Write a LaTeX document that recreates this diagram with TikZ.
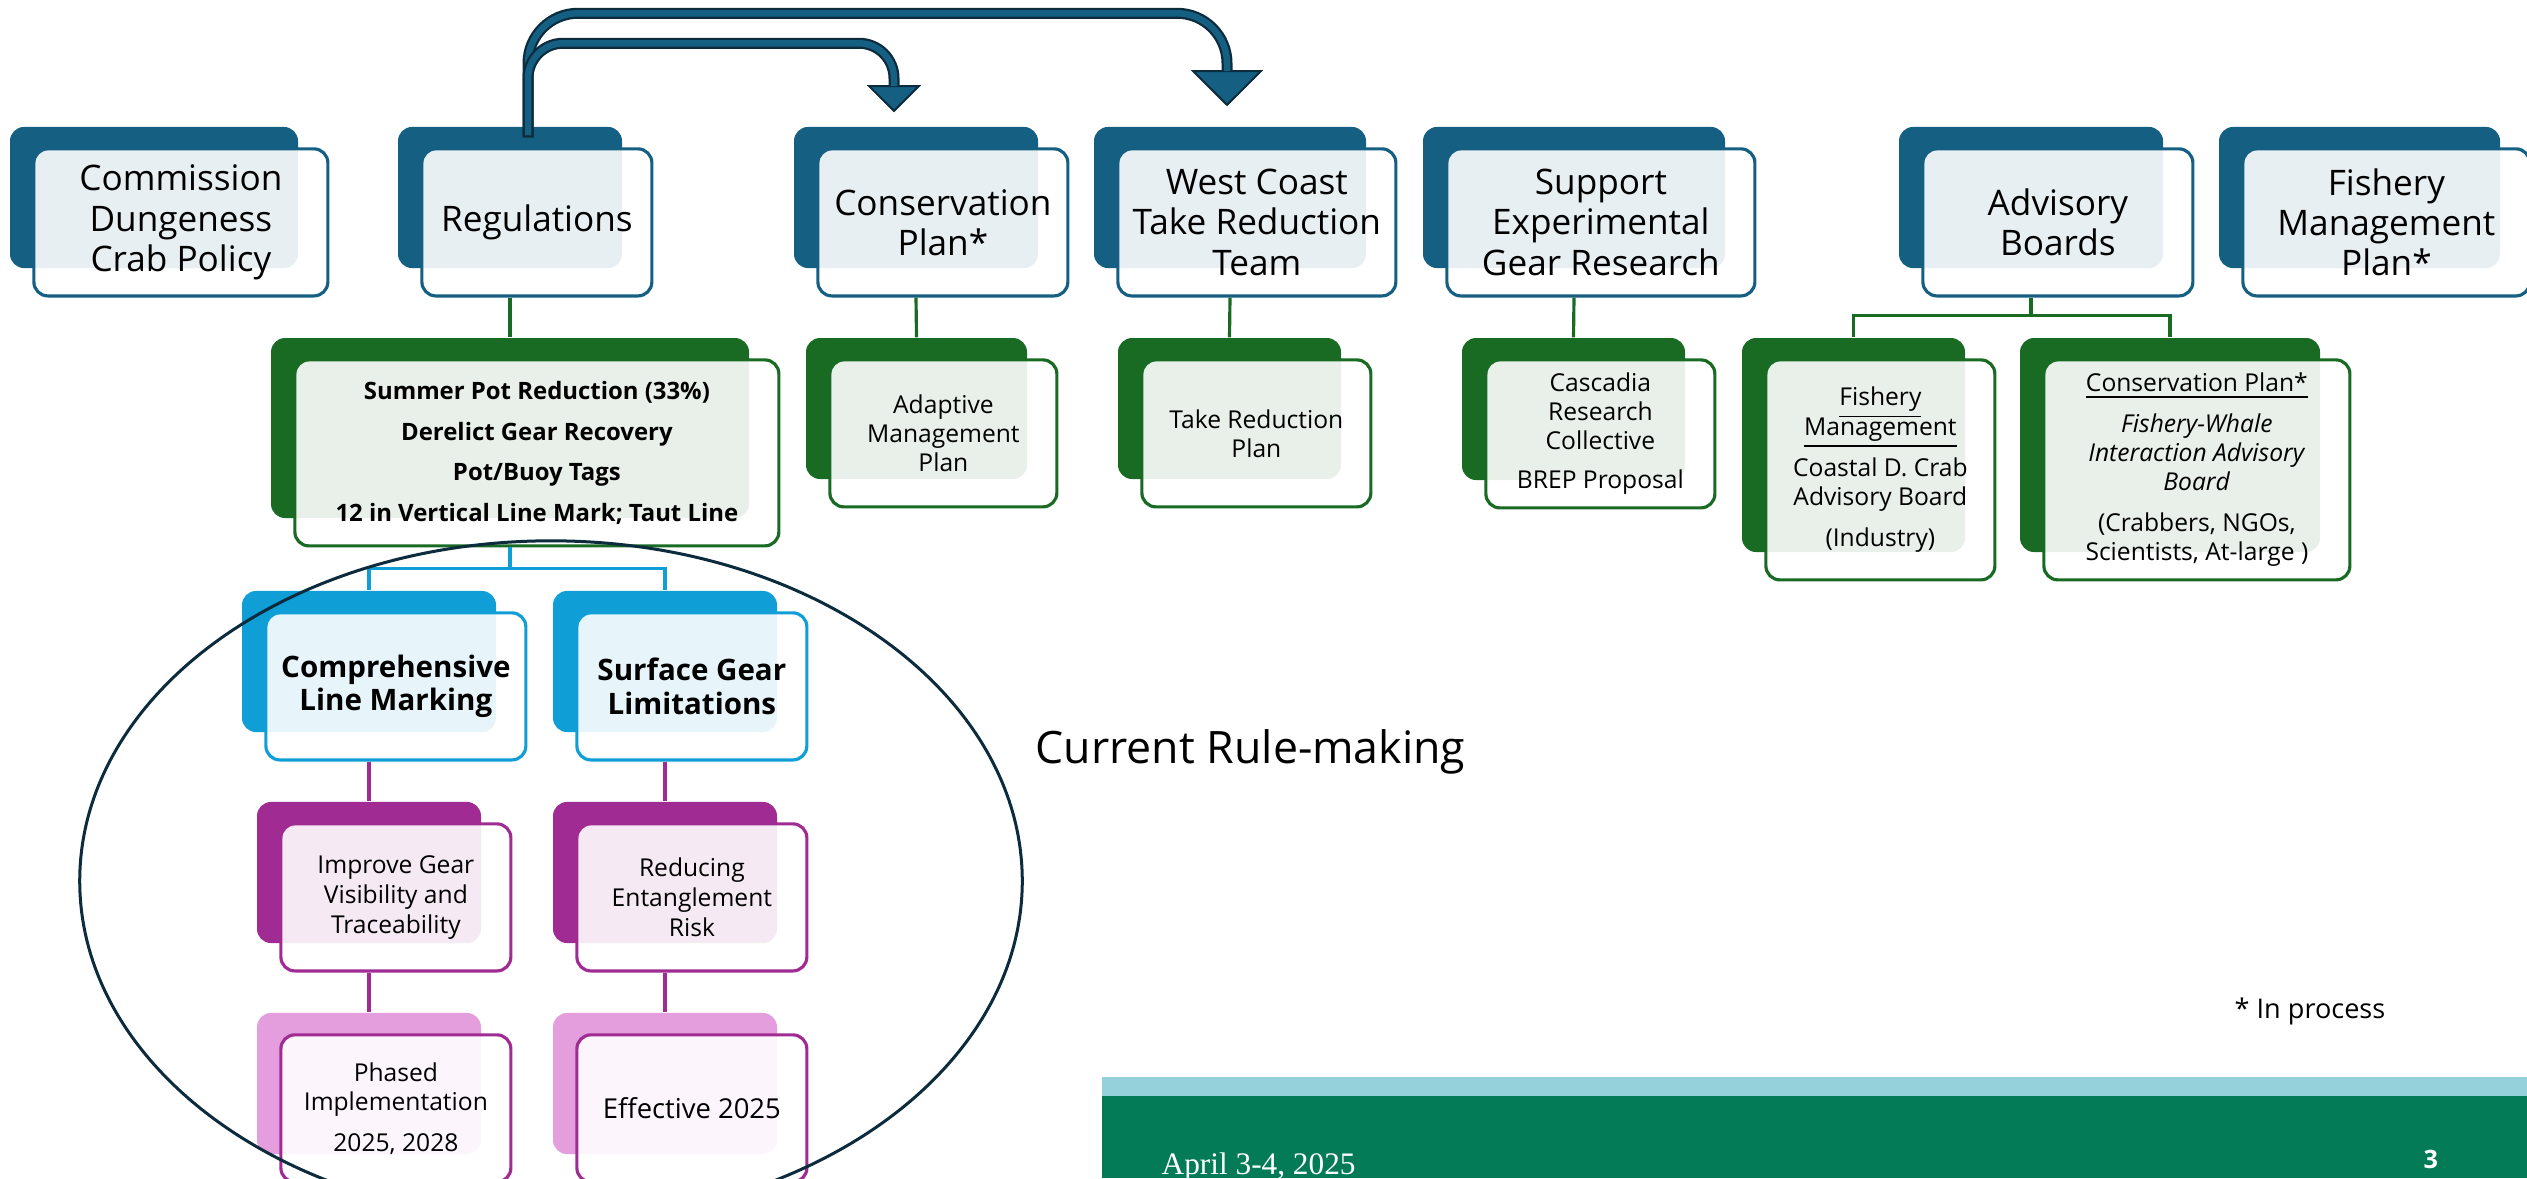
\documentclass[tikz,border=0pt]{standalone}
\usepackage{fontspec}
\setmainfont{Open Sans}
\newfontfamily\datefont{Liberation Serif}
\usepackage{xcolor}
\usetikzlibrary{arrows.meta,positioning}

\definecolor{orgblue}{HTML}{156082}
\definecolor{orggreen}{HTML}{196B24}
\definecolor{orgcyan}{HTML}{0F9ED5}
\definecolor{orgpurple}{HTML}{A02B93}
\definecolor{orgpink}{HTML}{E49EDD}
\definecolor{ringnavy}{HTML}{0C2B3D}
\definecolor{bandlight}{HTML}{95D1DA}
\definecolor{bandgreen}{HTML}{027B56}

\begin{document}
\begin{tikzpicture}[x=0.01cm, y=-0.01cm,
        back/.style={fill=#1, rounded corners=0.14cm, inner sep=0pt},
        front/.style={draw=#1, line width=0.9pt, fill=white, fill opacity=0.9,
            text opacity=1, rounded corners=0.14cm, inner sep=0pt, align=center,
            anchor=north west},
        link/.style={draw=#1, line width=0.9pt},
        label/.style={anchor=base west, inner sep=0pt},
        arrowedge/.style={draw=ringnavy, line width=0.11cm},
        arrowcore/.style={draw=orgblue, line width=0.065cm}]

        \useasboundingbox (0,0) rectangle (2527,1178);

        % Top row of the chart
        \foreach \n/\xa/\xb/\txt in {
            comm/10/298/{Commission\\Dungeness\\Crab Policy},
            reg/398/622/{Regulations},
            cons/794/1038/{Conservation\\Plan*},
            wctrt/1094/1366/{West Coast\\Take Reduction\\Team},
            sup/1423/1725/{Support\\Experimental\\Gear Research},
            adv/1899/2163/{Advisory\\Boards},
            fmp/2219/2500/{Fishery\\Management\\Plan*}}{
            \node[back=orgblue, minimum width={(\xb-\xa)*0.01cm}, minimum height=1.41cm]
                (\n-b) at ({(\xa+\xb)/2}, 197.5) {};
            \node[front=orgblue, minimum width={(\xb-\xa+6)*0.01cm}, minimum height=1.47cm,
                font=\fontsize{10}{11.4}\selectfont]
                (\n) at ([shift={(23,21)}]\n-b.north west) {\txt};
        }

        % Second row (green), boxes of different heights
        \foreach \n/\xa/\xb/\yb/\fnt/\txt in {
            summ/271/749/518/{\fontsize{6.8}{11.6}\selectfont\bfseries}/{Summer Pot Reduction (33\%)\\Derelict Gear Recovery\\Pot/Buoy Tags\\12 in Vertical Line Mark; Taut Line},
            adapt/806/1027/479/{\fontsize{7}{8.3}\selectfont}/{Adaptive\\Management\\Plan},
            trp/1118/1341/479/{\fontsize{7}{8.3}\selectfont}/{Take Reduction\\Plan},
            casc/1462/1685/480/{\fontsize{7}{8.3}\selectfont}/{Cascadia\\Research\\Collective\\[2.8pt]BREP Proposal},
            fm/1742/1965/552/{\fontsize{7}{8.3}\selectfont\lineskiplimit=-10pt}/{\underline{Fishery}\\\underline{Management}\\[3.4pt]Coastal D. Crab\\Advisory Board\\[3.4pt](Industry)},
            cp/2020/2320/552/{\fontsize{7}{8.3}\selectfont\lineskiplimit=-10pt}/{\underline{Conservation Plan*}\\[3.2pt]\textit{Fishery-Whale}\\\textit{Interaction Advisory}\\\textit{Board}\\[3.4pt](Crabbers, NGOs,\\Scientists, At-large )}}{
            \node[back=orggreen, minimum width={(\xb-\xa)*0.01cm}, minimum height={(\yb-338)*0.01cm}]
                (\n-b) at ({(\xa+\xb)/2}, {(338+\yb)/2}) {};
            \node[front=orggreen, minimum width={(\xb-\xa+6)*0.01cm}, minimum height={(\yb-332)*0.01cm},
                font=\fnt]
                (\n) at ([shift={(23,21)}]\n-b.north west) {\txt};
        }

        % Lower rows inside the rule-making ring
        \foreach \n/\xa/\xb/\ya/\fillc/\edgec/\fnt/\txt in {
            clm/242/496/591/orgcyan/orgcyan/{\fontsize{8.4}{9.6}\selectfont\bfseries}/{Comprehensive\\Line Marking},
            sgl/553/777/591/orgcyan/orgcyan/{\fontsize{8.4}{9.6}\selectfont\bfseries}/{Surface Gear\\Limitations},
            igv/257/481/802/orgpurple/orgpurple/{\fontsize{7}{8.5}\selectfont}/{Improve Gear\\Visibility and\\Traceability},
            rer/553/777/802/orgpurple/orgpurple/{\fontsize{7}{8.5}\selectfont}/{Reducing\\Entanglement\\Risk},
            phi/257/481/1013/orgpink/orgpurple/{\fontsize{7}{8.5}\selectfont}/{Phased\\Implementation\\[3pt]2025, 2028},
            eff/553/777/1013/orgpink/orgpurple/{\fontsize{7.8}{9}\selectfont}/{Effective 2025}}{
            \node[back=\fillc, minimum width={(\xb-\xa)*0.01cm}, minimum height=1.41cm]
                (\n-b) at ({(\xa+\xb)/2}, {\ya+70.5}) {};
            \node[front=\edgec, minimum width={(\xb-\xa+6)*0.01cm}, minimum height=1.47cm,
                font=\fnt]
                (\n) at ([shift={(23,21)}]\n-b.north west) {\txt};
        }

        % Connectors
        \draw[link=orggreen] (reg-b.south |- reg.south) -- (summ-b.north);
        \draw[link=orggreen] (cons-b.south |- cons.south) -- (adapt-b.north);
        \draw[link=orggreen] (wctrt-b.south |- wctrt.south) -- (trp-b.north);
        \draw[link=orggreen] (sup-b.south |- sup.south) -- (casc-b.north);
        \draw[link=orggreen] (adv-b.south |- adv.south) -- ++(0,18) -| (fm-b.north);
        \draw[link=orggreen] (adv-b.south |- adv.south) -- ++(0,18) -| (cp-b.north);
        \draw[link=orgcyan] (summ-b.south |- summ.south) -- ++(0,21) -| (clm-b.north);
        \draw[link=orgcyan] (summ-b.south |- summ.south) -- ++(0,21) -| (sgl-b.north);
        \foreach \a/\b in {clm/igv, sgl/rer, igv/phi, rer/eff}{
            \draw[link=orgpurple] (\a-b.south |- \a.south) -- (\b-b.north);
        }

        % Bent arrows from Regulations
        \coordinate (stem) at ([shift={(18,11)}]reg-b.north);
        \coordinate (cons-in) at ([shift={(-22,-14)}]cons-b.north);
        \coordinate (wctrt-in) at ([shift={(-3,-20)}]wctrt-b.north);
        \draw[arrowedge, rounded corners=0.5cm,
            -{Triangle[length=0.36cm, width=0.72cm, fill=orgblue, line width=0.02cm]}]
            (stem) -- ++(0,-124) -| (wctrt-in);
        \draw[arrowcore, rounded corners=0.5cm, shorten <=0.02cm, shorten >=0.35cm]
            (stem) -- ++(0,-124) -| (wctrt-in);
        \draw[arrowedge, rounded corners=0.35cm,
            -{Triangle[length=0.27cm, width=0.54cm, fill=orgblue, line width=0.02cm]}]
            (stem) -- ++(0,-94) -| (cons-in);
        \draw[arrowcore, rounded corners=0.35cm, shorten <=0.02cm, shorten >=0.26cm]
            (stem) -- ++(0,-94) -| (cons-in);

        % Ring round the current rule-making
        \draw[ringnavy, line width=0.03cm] (551,881) ellipse [x radius=4.71cm, y radius=3.4cm];
        \node[label, font=\fontsize{12.7}{15}\selectfont] (rulemaking) at (1035,763) {Current Rule-making};
        \node[label, font=\fontsize{7.7}{9.2}\selectfont] (inprocess) at (2234,1018) {* In process};

        % Footer band
        \fill[bandlight] (1102,1077) rectangle (2527,1096);
        \fill[bandgreen] (1102,1096) rectangle (2527,1178);
        \node[label, text=white, font=\datefont\fontsize{8.9}{10}\selectfont] (date) at (1161,1174) {April 3-4, 2025};
        \node[label, text=white, font=\fontsize{7.2}{8.6}\selectfont\bfseries] (page) at (2423,1168) {3};
\end{tikzpicture}
\end{document}
